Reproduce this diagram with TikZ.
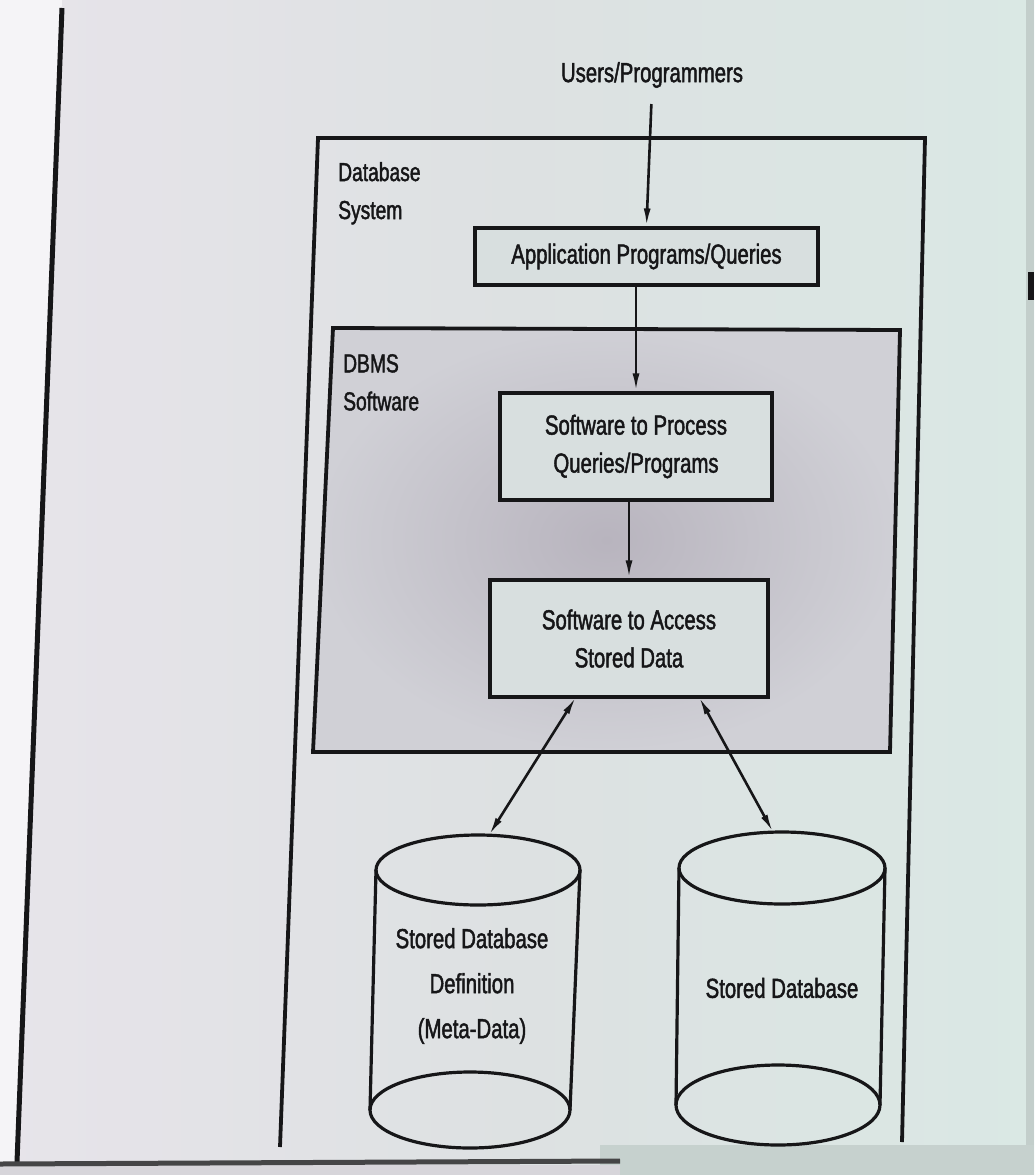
\documentclass[tikz,border=0pt]{standalone}
\usepackage{fontspec}
\setmainfont{Liberation Sans}[FakeStretch=0.74,FakeBold=1.6]
\usetikzlibrary{arrows.meta}
\definecolor{pageL}{RGB}{231,228,234}
\definecolor{pageM}{RGB}{221,225,226}
\definecolor{pageR}{RGB}{218,232,228}
\definecolor{dbmsIn}{RGB}{184,180,190}
\definecolor{dbmsOut}{RGB}{208,208,214}
\definecolor{boxfill}{RGB}{216,223,223}
\definecolor{ink}{RGB}{22,22,24}
\begin{document}
\begin{tikzpicture}[x=1pt,y=-1pt,
  txt/.style={text=ink, font=\fontsize{27.5}{38}\selectfont, align=center, inner sep=0pt},
  side/.style={text=ink, font=\fontsize{26}{38}\selectfont, align=left, inner sep=0pt, anchor=north west},
  procbox/.style={draw=ink, line width=3.2pt, fill=boxfill, txt},
  frame/.style={draw=ink, line width=3.8pt, line join=miter},
  arr/.style={draw=ink, line width=2.6pt, -{Latex[length=18pt,width=7pt]}},
  darr/.style={draw=ink, line width=2.6pt, {Latex[length=18pt,width=7pt]}-{Latex[length=18pt,width=7pt]}},
  cyl/.style={draw=ink, line width=3.2pt}
]
\useasboundingbox (0,0) rectangle (1034,1175);
% page background
\shade[left color=pageL, right color=pageR, middle color=pageM] (0,0) rectangle (1034,1175);
\fill[white!60!pageL] (0,0) -- (62,0) -- (17,1163) -- (0,1163) -- cycle;
\fill[gray!22!pageR] (600,1145) rectangle (1034,1175);
\fill[gray!15!pageL] (0,1165) rectangle (620,1175);
\fill[gray!25!pageR] (1026,0) rectangle (1034,1145);
\fill[ink] (1028,272) rectangle (1034,300);
% page rule lines
\draw[ink, line width=5pt] (62,8) -- (17,1162);
\draw[ink!80, line width=5pt] (0,1164) -- (620,1161);

% Database System frame (open at the bottom)
\draw[frame] (280,1147) -- (318,138) -- (925,138) -- (902,1142);
% DBMS Software frame
\shade[inner color=dbmsIn, outer color=dbmsOut] (333,328) -- (900,330) -- (890,752) -- (313,752) -- cycle;
\draw[frame] (333,328) -- (900,330) -- (890,752) -- (313,752) -- cycle;

\node[side] (dbsys) at (338,162) {Database\\System};
\node[side] (dbms) at (343,354) {DBMS\\Software};

\node[txt] (users) at (652,75) {Users/Programmers};
\node[procbox, minimum width=343pt, minimum height=57pt] (app) at (646.5,256.5) {Application Programs/Queries};
\node[procbox, minimum width=272pt, minimum height=107pt] (proc) at (636,446.5) {Software to Process\\Queries/Programs};
\node[procbox, minimum width=278pt, minimum height=117pt] (acc) at (629,638.5) {Software to Access\\Stored Data};

\draw[arr, shorten <=16pt] (users.south) -- (app.north);
\draw[arr] (app.south -| proc.north) -- (proc.north);
\draw[arr] (proc.south -| acc.north) -- (acc.north);

% cylinders
\draw[cyl] (478,870) ellipse [x radius=102pt, y radius=35pt];
\draw[cyl] (376,870) -- (370,1110);
\draw[cyl] (580,870) -- (570,1110);
\draw[cyl] (470,1110) ellipse [x radius=100pt, y radius=38pt];
\coordinate (c1top) at (489,835);

\draw[cyl] (782,868) ellipse [x radius=103pt, y radius=36pt];
\draw[cyl] (679,868) -- (676,1105);
\draw[cyl] (885,868) -- (880,1105);
\draw[cyl] (778,1105) ellipse [x radius=102pt, y radius=40pt];
\coordinate (c2top) at (773,832);

\node[txt, font=\fontsize{27.5}{45}\selectfont] (meta) at (472,986) {Stored Database\\Definition\\(Meta-Data)};
\node[txt] (sdb) at (782,988) {Stored Database};

\coordinate (a1) at (576,697);
\coordinate (a2) at (699,697);
\draw[darr] (a1) -- (c1top);
\draw[darr] (a2) -- (c2top);
\end{tikzpicture}
\end{document}
